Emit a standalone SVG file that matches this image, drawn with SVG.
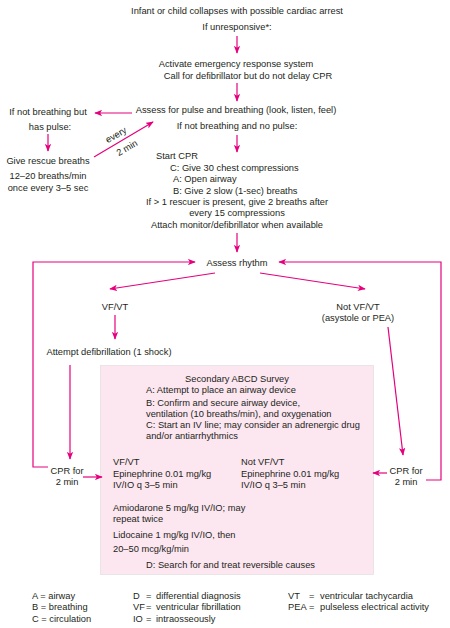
<svg xmlns="http://www.w3.org/2000/svg" width="450" height="628" viewBox="0 0 450 628">
<defs>
<marker id="ah" viewBox="0 0 10 8" refX="9" refY="4" markerWidth="8" markerHeight="6.4" markerUnits="userSpaceOnUse" orient="auto">
<path d="M0,0 L10,4 L0,8 L2.5,4 Z" fill="#e6007e"/>
</marker>
<style>
text{font-family:"Liberation Sans",Arial,sans-serif;font-size:9.3px;fill:#231f20}
.c{text-anchor:middle}
.ln{fill:none;stroke:#e6007e;stroke-width:1.2}
.ar{fill:none;stroke:#e6007e;stroke-width:1.2;marker-end:url(#ah)}
</style>
</defs>
<rect width="450" height="628" fill="#ffffff"/>

<g id="survey-box">
<rect x="100.5" y="365.5" width="273" height="209" fill="#fce6f0" stroke="#e6e0e2" stroke-width="0.8"/>
<text x="237" y="382" class="c">Secondary ABCD Survey</text>
<text x="146" y="393">A: Attempt to place an airway device</text>
<text x="146" y="406">B: Confirm and secure airway device,</text>
<text x="146" y="417">ventilation (10 breaths/min), and oxygenation</text>
<text x="146" y="428">C: Start an IV line; may consider an adrenergic drug</text>
<text x="146" y="439">and/or antiarrhythmics</text>
<text x="113" y="465">VF/VT</text>
<text x="113" y="477">Epinephrine 0.01 mg/kg</text>
<text x="113" y="488">IV/IO q 3–5 min</text>
<text x="241" y="465">Not VF/VT</text>
<text x="241" y="477">Epinephrine 0.01 mg/kg</text>
<text x="241" y="488">IV/IO q 3–5 min</text>
<text x="113" y="511">Amiodarone 5 mg/kg IV/IO; may</text>
<text x="113" y="522">repeat twice</text>
<text x="113" y="538">Lidocaine 1 mg/kg IV/IO, then</text>
<text x="113" y="552">20–50 mcg/kg/min</text>
<text x="146" y="568">D: Search for and treat reversible causes</text>
</g>

<g id="start">
<text x="237" y="14" class="c">Infant or child collapses with possible cardiac arrest</text>
<text x="237" y="30" class="c">If unresponsive*:</text>
</g>
<g id="activate">
<text x="236" y="67" class="c">Activate emergency response system</text>
<text x="248" y="79" class="c">Call for defibrillator but do not delay CPR</text>
</g>
<g id="assess-pulse">
<text x="236" y="113" class="c">Assess for pulse and breathing (look, listen, feel)</text>
<text x="237" y="129" class="c">If not breathing and no pulse:</text>
</g>
<g id="has-pulse">
<text x="48" y="115" class="c">If not breathing but</text>
<text x="50" y="130" class="c">has pulse:</text>
</g>
<g id="rescue-breaths">
<text x="48" y="164" class="c">Give rescue breaths</text>
<text x="48" y="179" class="c">12–20 breaths/min</text>
<text x="48" y="191" class="c">once every 3–5 sec</text>
</g>
<g id="start-cpr">
<text x="156" y="159">Start CPR</text>
<text x="170" y="171">C: Give 30 chest compressions</text>
<text x="173" y="182">A: Open airway</text>
<text x="173" y="194">B: Give 2 slow (1-sec) breaths</text>
<text x="237" y="205" class="c">If &gt; 1 rescuer is present, give 2 breaths after</text>
<text x="237" y="216" class="c">every 15 compressions</text>
<text x="237" y="228" class="c">Attach monitor/defibrillator when available</text>
</g>
<g id="assess-rhythm">
<text x="237" y="266" class="c">Assess rhythm</text>
</g>
<g id="vfvt">
<text x="115" y="310" class="c">VF/VT</text>
</g>
<g id="not-vfvt">
<text x="358" y="310" class="c">Not VF/VT</text>
<text x="358" y="321" class="c">(asystole or PEA)</text>
</g>
<g id="defib">
<text x="109" y="355" class="c">Attempt defibrillation (1 shock)</text>
</g>
<g id="cpr-left">
<text x="67" y="474" class="c">CPR for</text>
<text x="67" y="485" class="c">2 min</text>
</g>
<g id="cpr-right">
<text x="406" y="474" class="c">CPR for</text>
<text x="406" y="485" class="c">2 min</text>
</g>

<g id="connectors">
<line class="ar" x1="237" y1="36" x2="237" y2="53"/>
<line class="ar" x1="237" y1="83" x2="237" y2="101"/>
<line class="ar" x1="132" y1="113" x2="95" y2="113"/>
<line class="ar" x1="48" y1="134" x2="48" y2="151"/>
<line class="ar" x1="94" y1="157" x2="153" y2="122"/>
<line class="ar" x1="237" y1="135" x2="237" y2="152"/>
<line class="ar" x1="237" y1="233" x2="237" y2="252"/>
<polyline class="ar" points="48,467 33,467 33,262 195,262"/>
<polyline class="ar" points="426,480 441,480 441,262 279,262"/>
<line class="ar" x1="215" y1="273" x2="110" y2="289"/>
<line class="ar" x1="260" y1="273" x2="365" y2="289"/>
<line class="ar" x1="115" y1="315" x2="115" y2="339"/>
<line class="ar" x1="70" y1="365" x2="70" y2="459"/>
<line class="ar" x1="388" y1="327" x2="403" y2="455"/>
<line class="ar" x1="83" y1="477" x2="102" y2="477"/>
<line class="ar" x1="387" y1="473" x2="373" y2="473"/>
<text x="116" y="138" class="c" transform="rotate(-30 116 135)">every</text>
<text x="127" y="151" class="c" transform="rotate(-30 127 148)">2 min</text>
</g>

<g id="legend">
<text x="32" y="599">A = airway</text>
<text x="32" y="610">B = breathing</text>
<text x="32" y="622">C = circulation</text>
<text x="133" y="599">D</text><text x="146" y="599">=</text><text x="156" y="599">differential diagnosis</text>
<text x="133" y="610">VF</text><text x="146" y="610">=</text><text x="156" y="610">ventricular fibrillation</text>
<text x="133" y="622">IO</text><text x="146" y="622">=</text><text x="156" y="622">intraosseously</text>
<text x="288" y="599">VT</text><text x="309" y="599">=</text><text x="320" y="599">ventricular tachycardia</text>
<text x="288" y="610">PEA</text><text x="309" y="610">=</text><text x="320" y="610">pulseless electrical activity</text>
</g>
</svg>
